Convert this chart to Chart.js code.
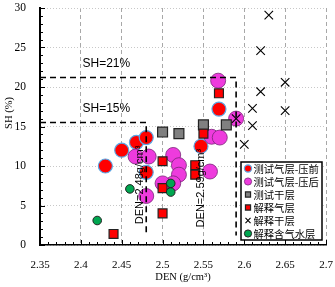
<!DOCTYPE html>
<html>
<head>
<meta charset="utf-8">
<script src="https://cdn.jsdelivr.net/npm/chart.js@4.4.0/dist/chart.umd.min.js"></script>
<style>
html,body{margin:0;padding:0;background:#fff;}
</style>
</head>
<body>
<canvas id="chart" width="335" height="287"></canvas>
<script>
// values
var seriesNames = ["测试气层-压前", "测试气层-压后", "测试干层", "解释气层", "解释干层", "解释含气水层"];

var preX = [2.43, 2.45, 2.468, 2.48, 2.48, 2.547, 2.569];
var preY = [10.0, 12.0, 13.0, 13.6, 9.2, 12.5, 17.2];

var postX = [2.568, 2.59, 2.56, 2.57, 2.558, 2.467, 2.483, 2.48, 2.513, 2.52, 2.52, 2.513, 2.50];
var postY = [20.8, 16.0, 13.7, 13.6, 9.3, 11.2, 11.2, 6.2, 11.4, 10.1, 8.9, 7.8, 7.8];

var dryTestX = [2.50, 2.52, 2.55, 2.578];
var dryTestY = [14.3, 14.1, 15.2, 15.2];

var gasX = [2.44, 2.50, 2.50, 2.50, 2.54, 2.54, 2.55, 2.569];
var gasY = [1.4, 10.6, 7.2, 4.0, 10.1, 8.9, 14.1, 19.2];

var dryX = [2.63, 2.62, 2.65, 2.62, 2.61, 2.65, 2.61, 2.59, 2.60];
var dryY = [29.1, 24.6, 20.6, 19.4, 17.3, 17.0, 15.1, 16.0, 12.75];

var waterX = [2.42, 2.46, 2.51, 2.51];
var waterY = [3.1, 7.1, 7.8, 6.7];

// cut-off lines
var cut21X = [2.35, 2.59, 2.59];
var cut21Y = [21.2, 21.2, 1.2];
var cut15X = [2.35, 2.48, 2.48];
var cut15Y = [15.5, 15.5, 1.3];

function pts(xs, ys) {
  return xs.map(function (x, i) { return { x: x, y: ys[i] }; });
}

var RED = "#FF0000", MAG = "#EE3BDD", GRAY = "#808080", GREEN = "#00A650";

var datasets = [
  { label: seriesNames[0], data: pts(preX, preY), pointStyle: "circle", pointRadius: 7,
    backgroundColor: RED, borderColor: "#5AA8E6", borderWidth: 1.2, order: 6 },
  { label: seriesNames[1], data: pts(postX, postY), pointStyle: "circle", pointRadius: 7.5,
    backgroundColor: MAG, borderColor: "#7A2378", borderWidth: 0.8, order: 5 },
  { label: seriesNames[2], data: pts(dryTestX, dryTestY), pointStyle: "rect", pointRadius: 7,
    backgroundColor: GRAY, borderColor: "#222", borderWidth: 1.2, order: 4 },
  { label: seriesNames[3], data: pts(gasX, gasY), pointStyle: "rect", pointRadius: 6.3,
    backgroundColor: RED, borderColor: "#222", borderWidth: 1.2, order: 3 },
  { label: seriesNames[4], data: pts(dryX, dryY), pointStyle: "crossRot", pointRadius: 6,
    backgroundColor: "#000", borderColor: "#000", borderWidth: 1.1, order: 2 },
  { label: seriesNames[5], data: pts(waterX, waterY), pointStyle: "circle", pointRadius: 4.3,
    backgroundColor: GREEN, borderColor: "#222", borderWidth: 1, order: 1 },
  { type: "line", label: "cut21", data: pts(cut21X, cut21Y), showLine: true, fill: false,
    borderColor: "#000", borderWidth: 1.6, borderDash: [6, 4], pointRadius: 0, order: 0 },
  { type: "line", label: "cut15", data: pts(cut15X, cut15Y), showLine: true, fill: false,
    borderColor: "#000", borderWidth: 1.6, borderDash: [6, 4], pointRadius: 0, order: 0 }
];

var decor = {
  id: "decor",
  afterDraw: function (chart) {
    var ctx = chart.ctx, xs = chart.scales.x, ys = chart.scales.y;
    var area = chart.chartArea;
    ctx.save();
    // inward tick marks
    ctx.strokeStyle = "#000";
    ctx.lineWidth = 1;
    for (var i = 0; i <= 35; i++) {
      var px = Math.round(xs.getPixelForValue(2.35 + i * 0.01)) + 0.5;
      var len = i % 5 === 0 ? 5 : 3;
      ctx.beginPath();
      ctx.moveTo(px, area.bottom);
      ctx.lineTo(px, area.bottom - len);
      ctx.stroke();
    }
    for (var j = 0; j <= 30; j++) {
      var py = Math.round(ys.getPixelForValue(j)) + 0.5;
      var l2 = j % 5 === 0 ? 5 : 3;
      ctx.beginPath();
      ctx.moveTo(area.left, py);
      ctx.lineTo(area.left + l2, py);
      ctx.stroke();
    }

    // cut-off labels
    ctx.fillStyle = "#000";
    ctx.font = "12px 'Liberation Sans', Arial, sans-serif";
    ctx.textAlign = "left";
    ctx.textBaseline = "middle";
    ctx.fillText("SH=21%", xs.getPixelForValue(2.402), ys.getPixelForValue(23.0));
    ctx.fillText("SH=15%", xs.getPixelForValue(2.402), ys.getPixelForValue(17.2));

    ctx.font = "11px 'Liberation Sans', Arial, sans-serif";
    ctx.textAlign = "center";
    [["DEN=2.48g/cm³", 2.4727, 7.6], ["DEN=2.59g/cm³", 2.5474, 7.2]].forEach(function (t) {
      ctx.save();
      ctx.translate(xs.getPixelForValue(t[1]), ys.getPixelForValue(t[2]));
      ctx.rotate(-Math.PI / 2);
      ctx.fillText(t[0], 0, 0);
      ctx.restore();
    });

    // y axis title
    ctx.font = "10.5px 'Liberation Serif', 'Times New Roman', serif";
    ctx.save();
    ctx.translate(9, 113);
    ctx.rotate(-Math.PI / 2);
    ctx.fillText("SH (%)", 0, 0);
    ctx.restore();

    // legend box
    var lx = 241, ly = 162, lw = 81, lh = 78;
    ctx.fillStyle = "#fff";
    ctx.fillRect(lx, ly, lw, lh);
    ctx.strokeStyle = "#000";
    ctx.lineWidth = 1.5;
    ctx.strokeRect(lx, ly, lw, lh);
    ctx.font = "10.3px 'Noto Sans CJK SC', sans-serif";
    ctx.textAlign = "left";
    for (var k = 0; k < 6; k++) {
      var ds = chart.data.datasets[k];
      var cy = ly + 6.5 + k * 13;
      ctx.fillStyle = ds.backgroundColor;
      ctx.strokeStyle = ds.borderColor;
      ctx.lineWidth = ds.borderWidth;
      Chart.helpers.drawPoint(ctx, { pointStyle: ds.pointStyle, radius: 3.6, rotation: 0, borderWidth: ds.borderWidth }, 248, cy);
      ctx.fillStyle = "#000";
      ctx.fillText(seriesNames[k], 253.5, cy + 0.5);
    }
    ctx.restore();
  }
};

function noPad(scale) {
  scale.paddingTop = 0;
  scale.paddingBottom = 0;
  scale.paddingLeft = 0;
  scale.paddingRight = 0;
}

var ctx = document.getElementById("chart");
var myChart = new Chart(ctx, {
  type: "scatter",
  data: { datasets: datasets },
  options: {
    responsive: false,
    animation: false,
    events: [],
    layout: { autoPadding: false, padding: { left: 0, right: 9, top: 8, bottom: 0 } },
    plugins: { legend: { display: false }, tooltip: { enabled: false } },
    scales: {
      x: {
        type: "linear",
        min: 2.35,
        max: 2.7,
        afterFit: function (scale) { scale.height = 42; noPad(scale); },
        ticks: {
          stepSize: 0.05,
          padding: 14,
          color: "#000",
          font: { family: "'Liberation Serif', 'Times New Roman', serif", size: 11 },
          callback: function (v) { return String(Number(v.toFixed(2))); }
        },
        grid: { color: "#A8A8A8", lineWidth: 1, drawTicks: false },
        border: { color: "#000", width: 1.5, dash: [4, 3] },
        title: {
          display: true,
          text: "DEN (g/cm³)",
          color: "#000",
          padding: { top: 0, bottom: 3 },
          font: { family: "'Liberation Serif', 'Times New Roman', serif", size: 10.5 }
        }
      },
      y: {
        type: "linear",
        min: 0,
        max: 30,
        afterFit: function (scale) { scale.width = 40; noPad(scale); },
        ticks: {
          stepSize: 5,
          padding: 14,
          color: "#000",
          font: { family: "'Liberation Serif', 'Times New Roman', serif", size: 11.5 }
        },
        grid: { color: "#C8C8C8", lineWidth: 1, drawTicks: false },
        border: { color: "#000", width: 2, dash: [1, 2] }
      }
    }
  },
  plugins: [decor]
});
</script>
</body>
</html>
